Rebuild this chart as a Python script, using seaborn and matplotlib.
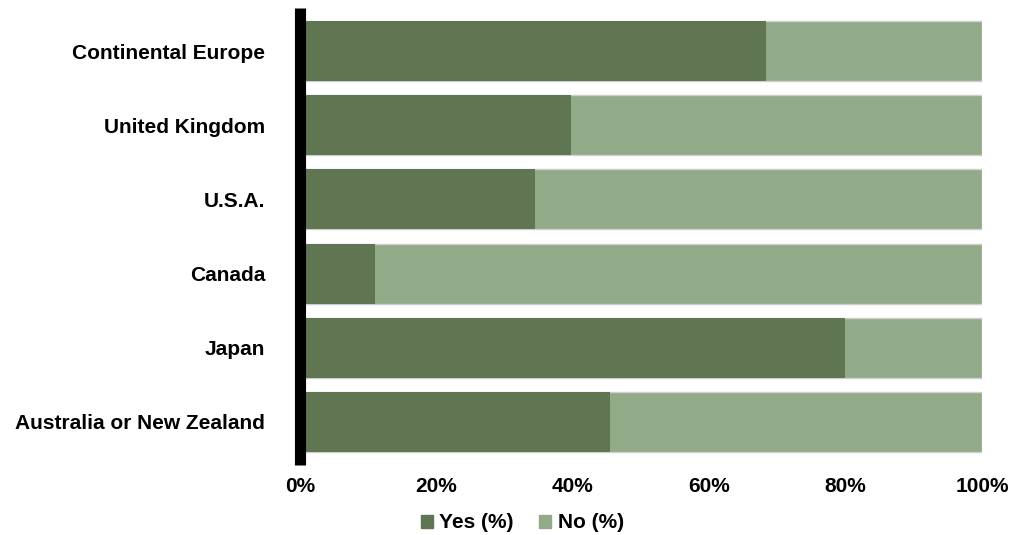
import numpy as np
import pandas as pd
import seaborn as sns
import matplotlib
matplotlib.use('Agg')
import matplotlib.pyplot as plt
from matplotlib.patches import Patch
from matplotlib.ticker import FuncFormatter

regions = ["Continental Europe", "United Kingdom", "U.S.A.", "Canada",
           "Japan", "Australia or New Zealand"]
yes_pct = [68.4, 39.8, 34.4, 11.0, 79.9, 45.4]
no_pct = [100 - v for v in yes_pct]

dark = "#607552"
light = "#91AA87"

sns.set_style("white")
plt.rcParams['font.family'] = ['Liberation Sans', 'DejaVu Sans']
plt.rcParams['text.color'] = 'black'
plt.rcParams['xtick.color'] = 'black'
plt.rcParams['ytick.color'] = 'black'

df = pd.DataFrame({"region": regions, "yes": yes_pct,
                   "total": np.array(yes_pct) + np.array(no_pct)})

fig = plt.figure(figsize=(10.1, 5.35), dpi=100)
ax = fig.add_axes([300 / 1010, 1 - 465 / 535, 682 / 1010, 457 / 535])

# stacked: full bar in light, yes part on top in dark
sns.barplot(data=df, y="region", x="total", color=light, orient="h",
            width=0.81, edgecolor="#cfcfcf", linewidth=1, ax=ax,
            saturation=1)
sns.barplot(data=df, y="region", x="yes", color=dark, orient="h",
            width=0.81, linewidth=0, ax=ax, saturation=1)

ax.set_xlim(0, 100)
ax.set_ylim(5.58, -0.58)
ax.set_xlabel("")
ax.set_ylabel("")
ax.set_xticks([0, 20, 40, 60, 80, 100])
ax.xaxis.set_major_formatter(FuncFormatter(lambda v, p: f"{v:.0f}%"))
ax.tick_params(axis="both", length=0, labelsize=15, labelcolor="black")
ax.tick_params(axis="y", pad=25)
ax.tick_params(axis="x", pad=9)
for lab in ax.get_xticklabels() + ax.get_yticklabels():
    lab.set_fontweight("bold")

for s in ["top", "right", "bottom"]:
    ax.spines[s].set_visible(False)
ax.spines["left"].set_linewidth(8)
ax.spines["left"].set_color("black")
ax.spines["left"].set_capstyle("butt")
ax.spines["left"].set_zorder(5)

handles = [Patch(color=dark, label="Yes (%)"), Patch(color=light, label="No (%)")]
leg = fig.legend(handles=handles, loc="center", bbox_to_anchor=(0.517, 1 - 523 / 535),
                 ncol=2, frameon=False, handlelength=0.6, handleheight=0.6,
                 handletextpad=0.3, columnspacing=1.2,
                 prop={"size": 15, "weight": "bold"})

fig.savefig("out.png", dpi=100)
